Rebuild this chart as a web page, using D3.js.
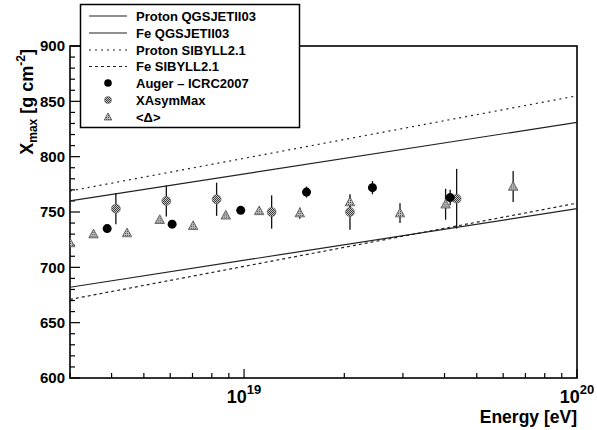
<!DOCTYPE html>
<html>
<head>
<meta charset="utf-8">
<script src="https://cdn.jsdelivr.net/npm/d3@7"></script>
<style>
  html, body { margin: 0; padding: 0; background: #fff; }
  svg { display: block; font-family: "Liberation Sans", Arial, Helvetica, sans-serif; }
</style>
</head>
<body>
<svg id="chart" width="597" height="430"></svg>
<script>
// Model predictions: straight lines in log(E), given at the plot's energy limits
const modelEnergy = [3e18, 1e20];
const protonQGSJET = [760, 831];
const feQGSJET = [682, 753];
const protonSIBYLL = [769, 855];
const feSIBYLL = [671, 758];

// Auger ICRC2007 measurements
const augerEnergy = [3.88e18, 6.08e18, 9.77e18, 1.54e19, 2.43e19, 4.16e19];
const augerXmax = [735, 739, 751.5, 768, 772, 763];
const augerErr = [3, 3, 3, 5, 6, 7];

// XAsymMax estimates
const asymEnergy = [4.12e18, 5.84e18, 8.27e18, 1.21e19, 2.08e19, 4.35e19];
const asymXmax = [753, 760, 761.5, 750, 750, 762];
const asymErr = [14, 14, 15, 15, 16, 27];

// <Delta> estimates
const deltaEnergy = [3.0e18, 3.53e18, 4.45e18, 5.58e18, 7.03e18, 8.81e18, 1.11e19, 1.47e19, 2.08e19, 2.94e19, 4.03e19, 6.43e19];
const deltaXmax = [722, 730, 731, 743, 737.5, 747, 751, 749, 759, 749, 757, 773];
const deltaErr = [3, 3, 3, 3, 3, 3, 3, 5, 5, 9, 14, 14];

// Axis settings
const yTicks = [600, 650, 700, 750, 800, 850, 900];
const xLabelDecades = [19, 20];

const frame = { left: 70, right: 577, top: 46, bottom: 378 };

const svg = d3.select("#chart");

const x = d3.scaleLog().domain([3e18, 1e20]).range([frame.left, frame.right]);
const y = d3.scaleLinear().domain([600, 900]).range([frame.bottom, frame.top]);

// Fill patterns for the grey markers
const defs = svg.append("defs");
const chk = defs.append("pattern").attr("id", "checker")
  .attr("width", 2).attr("height", 2).attr("patternUnits", "userSpaceOnUse");
chk.append("rect").attr("width", 2).attr("height", 2).attr("fill", "#c8c8c8");
chk.append("rect").attr("width", 1).attr("height", 1).attr("fill", "#3a3a3a");
chk.append("rect").attr("x", 1).attr("y", 1).attr("width", 1).attr("height", 1).attr("fill", "#3a3a3a");

const tri = defs.append("pattern").attr("id", "trifill")
  .attr("width", 2).attr("height", 2).attr("patternUnits", "userSpaceOnUse");
tri.append("rect").attr("width", 2).attr("height", 2).attr("fill", "#bdbdbd");
tri.append("rect").attr("width", 1).attr("height", 1).attr("fill", "#4a4a4a");

defs.append("clipPath").attr("id", "plotclip").append("rect")
  .attr("x", frame.left).attr("y", frame.top)
  .attr("width", frame.right - frame.left).attr("height", frame.bottom - frame.top);

// Frame
svg.append("rect")
  .attr("x", frame.left).attr("y", frame.top)
  .attr("width", frame.right - frame.left).attr("height", frame.bottom - frame.top)
  .attr("fill", "none").attr("stroke", "#000").attr("stroke-width", 1.6);

// Y axis ticks (inward)
const yAxis = svg.append("g");
d3.range(600, 901, 10).forEach(v => {
  const major = v % 50 === 0;
  yAxis.append("line")
    .attr("x1", frame.left).attr("x2", frame.left + (major ? 10 : 5))
    .attr("y1", y(v)).attr("y2", y(v))
    .attr("stroke", "#000").attr("stroke-width", 1.2);
});
yAxis.selectAll("text.ytick").data(yTicks).join("text")
  .attr("class", "ytick")
  .attr("x", frame.left - 5).attr("y", d => y(d))
  .attr("dy", "0.36em").attr("text-anchor", "end")
  .attr("font-size", 15).attr("font-weight", "bold")
  .text(d => d);

// X axis ticks (inward, log)
const xAxis = svg.append("g");
const xTickVals = [];
for (let m = 3; m <= 9; m++) xTickVals.push(m * 1e18);
for (let m = 1; m <= 9; m++) xTickVals.push(m * 1e19);
xTickVals.push(1e20);
xTickVals.forEach(v => {
  const major = Math.abs(Math.log10(v) - Math.round(Math.log10(v))) < 1e-9;
  xAxis.append("line")
    .attr("x1", x(v)).attr("x2", x(v))
    .attr("y1", frame.bottom).attr("y2", frame.bottom - (major ? 9 : 5))
    .attr("stroke", "#000").attr("stroke-width", 1.2);
});
xLabelDecades.forEach(p => {
  const t = xAxis.append("text")
    .attr("x", x(Math.pow(10, p))).attr("y", 403)
    .attr("text-anchor", "middle").attr("font-weight", "bold");
  t.append("tspan").attr("font-size", 18).text("10");
  t.append("tspan").attr("font-size", 13).attr("dy", -9).text(p);
});

// Axis titles
svg.append("text")
  .attr("x", frame.right).attr("y", 423)
  .attr("text-anchor", "end").attr("font-size", 17.5).attr("font-weight", "bold")
  .text("Energy [eV]");

const yTitle = svg.append("text")
  .attr("transform", `translate(33,${frame.top + 3}) rotate(-90)`)
  .attr("text-anchor", "end").attr("font-size", 18).attr("font-weight", "bold");
yTitle.append("tspan").text("X");
yTitle.append("tspan").attr("font-size", 12).attr("dy", 4).text("max");
yTitle.append("tspan").attr("dy", -4).text(" [g cm");
yTitle.append("tspan").attr("font-size", 12).attr("dy", -8).text("-2");
yTitle.append("tspan").attr("dy", 8).text("]");

// Model lines
const plot = svg.append("g").attr("clip-path", "url(#plotclip)");
const line = d3.line().x(d => x(d[0])).y(d => y(d[1]));
const models = [
  { name: "Proton QGSJETII03", vals: protonQGSJET, dash: null },
  { name: "Fe QGSJETII03", vals: feQGSJET, dash: null },
  { name: "Proton SIBYLL2.1", vals: protonSIBYLL, dash: "2,4" },
  { name: "Fe SIBYLL2.1", vals: feSIBYLL, dash: "3,3" }
];
models.forEach(m => {
  plot.append("path")
    .datum(modelEnergy.map((e, i) => [e, m.vals[i]]))
    .attr("d", line)
    .attr("fill", "none").attr("stroke", "#222").attr("stroke-width", 1.2)
    .attr("stroke-dasharray", m.dash);
});

// Error bars
function errorBars(E, V, Err) {
  plot.append("g").selectAll("line").data(E).join("line")
    .attr("x1", d => x(d)).attr("x2", d => x(d))
    .attr("y1", (d, i) => y(V[i] - Err[i])).attr("y2", (d, i) => y(V[i] + Err[i]))
    .attr("stroke", "#111").attr("stroke-width", 1.3);
}
errorBars(asymEnergy, asymXmax, asymErr);
errorBars(deltaEnergy, deltaXmax, deltaErr);
errorBars(augerEnergy, augerXmax, augerErr);

// Markers
const triPath = r => `M0,${-r}L${r * 0.95},${r * 0.75}L${-r * 0.95},${r * 0.75}Z`;

function drawDelta(g, cx, cy, r) {
  g.append("path").attr("transform", `translate(${cx},${cy})`)
    .attr("d", triPath(r)).attr("fill", "url(#trifill)")
    .attr("stroke", "#555").attr("stroke-width", 0.8);
}
function drawAsym(g, cx, cy, r) {
  g.append("circle").attr("cx", cx).attr("cy", cy).attr("r", r)
    .attr("fill", "url(#checker)").attr("stroke", "#666").attr("stroke-width", 0.6);
}
function drawAuger(g, cx, cy, r) {
  g.append("circle").attr("cx", cx).attr("cy", cy).attr("r", r).attr("fill", "#000");
}

deltaEnergy.forEach((e, i) => drawDelta(plot, x(e), y(deltaXmax[i]), 5));
asymEnergy.forEach((e, i) => drawAsym(plot, x(e), y(asymXmax[i]), 4.5));
augerEnergy.forEach((e, i) => drawAuger(plot, x(e), y(augerXmax[i]), 4.5));

// Legend
const legend = svg.append("g");
legend.append("rect")
  .attr("x", 80.5).attr("y", 4.5).attr("width", 219).attr("height", 123)
  .attr("fill", "#fff").attr("stroke", "#000").attr("stroke-width", 1.5);

const rowY = [16, 33, 50, 66.5, 83, 100, 117];
const labels = ["Proton QGSJETII03", "Fe QGSJETII03", "Proton SIBYLL2.1", "Fe SIBYLL2.1",
  "Auger \u2013 ICRC2007", "XAsymMax", "<\u0394>"];
models.forEach((m, i) => {
  legend.append("line")
    .attr("x1", 89).attr("x2", 127).attr("y1", rowY[i]).attr("y2", rowY[i])
    .attr("stroke", "#222").attr("stroke-width", 1.2)
    .attr("stroke-dasharray", m.dash);
});
drawAuger(legend, 108, rowY[4], 3.8);
drawAsym(legend, 108, rowY[5], 3.5);
drawDelta(legend, 108, rowY[6], 4);
legend.selectAll("text").data(labels).join("text")
  .attr("x", 136).attr("y", (d, i) => rowY[i]).attr("dy", "0.36em")
  .attr("font-size", 13).attr("font-weight", "bold")
  .text(d => d);
</script>
</body>
</html>
